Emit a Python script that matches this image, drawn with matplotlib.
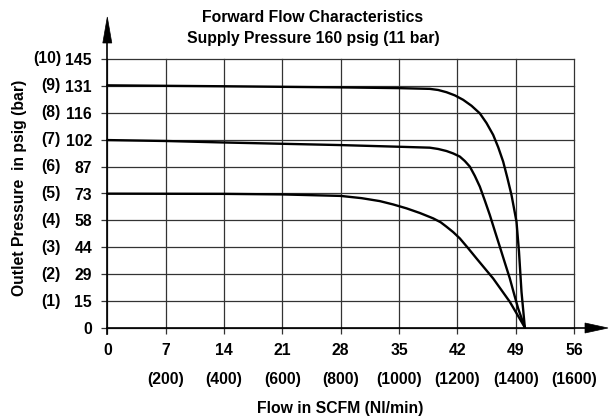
import matplotlib
matplotlib.use('Agg')
import matplotlib.pyplot as plt
import matplotlib.transforms as mtransforms
from matplotlib.lines import Line2D
from matplotlib.patches import Polygon

plt.rcParams['font.family'] = ['Liberation Sans', 'DejaVu Sans']
plt.rcParams['font.weight'] = 'bold'
FS = 11.3
plt.rcParams['font.size'] = FS

# ---- data ----
flow_ticks = [0, 7, 14, 21, 28, 35, 42, 49, 56]
flow_labels = ['0', '7', '14', '21', '28', '35', '42', '49', '56']
flow_nl_labels = ['', '(200)', '(400)', '(600)', '(800)', '(1000)', '(1200)', '(1400)', '(1600)']

psig_ticks = [0, 14.5, 29, 43.5, 58, 72.5, 87, 101.5, 116, 130.5, 145]
psig_labels = ['0', '15', '29', '44', '58', '73', '87', '102', '116', '131', '145']
bar_labels = ['', '(1)', '(2)', '(3)', '(4)', '(5)', '(6)', '(7)', '(8)', '(9)', '(10)']

top_x = [0, 14, 28, 35, 38.7, 39.7, 40.7, 41.7, 42.7, 43.7, 44.7, 45.5, 46.3, 46.9,
         47.5, 48.0, 48.5, 48.8, 49.1, 49.4, 49.7, 50.1]
top_y = [130.8, 130.3, 129.7, 129.3, 128.9, 128.3, 127.1, 125.4, 123.0, 119.8, 115.7,
         110.5, 104.1, 97.5, 89.7, 81.0, 71.7, 64.5, 57.3, 41.1, 19.5, 0.3]

mid_x = [0, 7, 14, 21, 28, 35, 38.7, 39.7, 40.7, 41.5, 42.3, 42.9, 43.5, 44.1, 44.7,
         45.3, 45.9, 46.5, 47.1, 47.7, 48.3, 48.8, 49.3, 50.1]
mid_y = [101.3, 100.8, 100.0, 99.3, 98.6, 97.7, 97.2, 96.5, 95.4, 94.1, 92.4, 90.0, 87.0,
         82.0, 76.2, 68.7, 60.9, 52.3, 43.8, 35.2, 26.7, 18.5, 10.5, 0.3]

low_x = [0, 14, 21, 28, 30.5, 32.7, 34.3, 35.9, 37.5, 39.1, 40.0, 40.7, 41.5, 42.3, 43.3,
         44.3, 45.3, 46.3, 47.3, 48.3, 49.2, 50.1]
low_y = [72.4, 72.3, 72.0, 71.2, 70.0, 68.4, 66.6, 64.5, 62.0, 59.1, 57.0, 54.6, 51.7,
         48.3, 43.0, 37.5, 32.1, 26.7, 20.4, 14.1, 7.2, 0.3]

W, H = 613, 419
fig = plt.figure(figsize=(W / 100, H / 100), dpi=100)

L, R, T, B = 107.3, 574.0, 59.0, 328.0
ax = fig.add_axes([L / W, 1 - B / H, (R - L) / W, (B - T) / H])
ax.set_xlim(0, 56)
ax.set_ylim(0, 145)
for s in ax.spines.values():
    s.set_visible(False)

ax.set_xticks(flow_ticks)
ax.set_xticklabels(flow_labels, fontsize=FS, fontweight='bold')
ax.set_yticks(psig_ticks)
ax.set_yticklabels(psig_labels, fontsize=FS, fontweight='bold')
ax.tick_params(axis='both', direction='out', length=4, width=0.9, color='#333333')
ax.tick_params(axis='x', pad=7)
ax.tick_params(axis='y', pad=7)
ax.grid(True, color='#333333', linewidth=0.9)
for gl in ax.get_xgridlines() + ax.get_ygridlines():
    gl.set_clip_on(False)

# secondary labels
trans_x = mtransforms.blended_transform_factory(ax.transData, ax.transAxes)
for xv, lab in zip(flow_ticks, flow_nl_labels):
    if lab:
        ax.text(xv, -51 / (B - T), lab, transform=trans_x, ha='center', va='center',
                fontsize=FS, fontweight='bold')
trans_y = mtransforms.blended_transform_factory(ax.transAxes, ax.transData)
for yv, lab in zip(psig_ticks, bar_labels):
    if lab:
        ax.text((61 - L) / (R - L), yv, lab, transform=trans_y, ha='right', va='center',
                fontsize=FS, fontweight='bold')

# curves
for xs, ys in [(top_x, top_y), (mid_x, mid_y), (low_x, low_y)]:
    ax.plot(xs, ys, color='black', linewidth=1.7, solid_joinstyle='round',
            solid_capstyle='round', clip_on=False, zorder=5)

# axes lines with arrows (figure pixel coords)
def P(px, py):
    return (px / W, 1 - py / H)

fig.add_artist(Line2D([L / W, L / W], [1 - 334 / H, 1 - 40 / H], color='black',
                      linewidth=1.2, transform=fig.transFigure))
fig.add_artist(Line2D([L / W, 588 / W], [1 - B / H, 1 - B / H], color='black',
                      linewidth=1.2, transform=fig.transFigure))
fig.add_artist(Polygon([P(L, 17), P(L - 4.5, 43), P(L + 4.5, 43)], closed=True,
                       facecolor='black', edgecolor='black', linewidth=0.5,
                       transform=fig.transFigure))
fig.add_artist(Polygon([P(608, B), P(585, B - 5), P(585, B + 5)], closed=True,
                       facecolor='black', edgecolor='black', linewidth=0.5,
                       transform=fig.transFigure))

# titles / labels
fig.text(313 / W, 1 - 18 / H, 'Forward Flow Characteristics', ha='center', va='center',
         fontsize=FS, fontweight='bold')
fig.text(313 / W, 1 - 38 / H, 'Supply Pressure 160 psig (11 bar)', ha='center', va='center',
         fontsize=FS, fontweight='bold')
fig.text(20 / W, 1 - 188 / H, 'Outlet Pressure  in psig (bar)', rotation=90, ha='center',
         va='center', fontsize=FS, fontweight='bold')
ax.text(0.5, -80 / (B - T), 'Flow in SCFM (Nl/min)', transform=ax.transAxes, ha='center',
        va='center', fontsize=FS, fontweight='bold')

fig.savefig('out.png', dpi=100)
